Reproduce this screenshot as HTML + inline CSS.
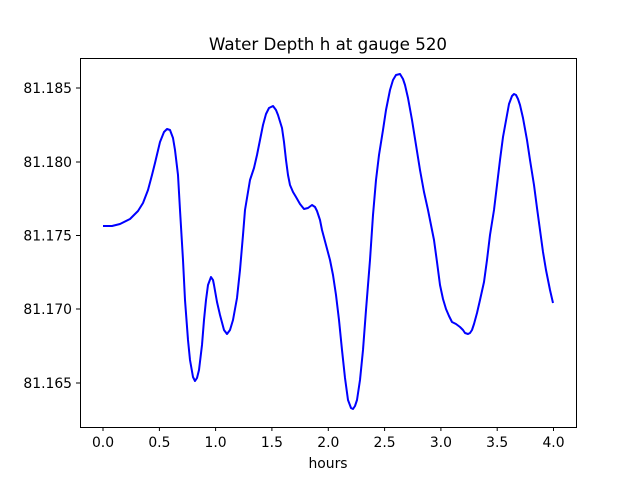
<!DOCTYPE html>
<html><head><meta charset="utf-8"><style>body{margin:0;background:#fff}svg{display:block}</style></head><body>
<svg width="640" height="480" xmlns="http://www.w3.org/2000/svg" font-family="DejaVu Sans, Liberation Sans, sans-serif">
<rect width="640" height="480" fill="#fff"/>
<text x="328" y="50" font-size="16.7" text-anchor="middle">Water Depth h at gauge 520</text>
<polyline fill="none" stroke="#0000ff" stroke-width="2" stroke-linejoin="round" points="103,226 112,226 120,224 130,219 138,211 143,203 148,190 152,175 155,163 160,142 164,132 167,129 170,130 173,138 175,150 178,175 180,210 183,260 185,300 188,340 190,360 193,377 195,381 197,378 199,370 202,345 204,320 206,300 208,285 211,277 213,280 214,285 217,302 220,315 224,330 227,334 230,330 233,320 237,298 240,270 243,235 245,210 250,180 254,168 257,155 260,140 263,125 266,114 269,108 273,106 276,110 278,115 282,128 284,142 286,160 288,175 290,185 293,192 296,197 300,204 304,209 308,208 312,205 315,207 317,211 320,220 322,230 326,245 330,260 333,275 336,295 339,320 342,350 345,378 348,400 351,408 353,409 355,406 357,400 360,380 363,350 366,310 370,260 373,215 376,180 379,155 383,130 386,110 390,90 393,80 396,75 400,74 403,79 405,85 408,98 412,120 416,145 420,170 424,192 428,210 431,225 434,240 437,262 440,285 443,299 446,309 449,316 452,322 456,324 460,327 463,330 465,333 468,334 470,333 472,330 474,324 477,313 480,300 484,282 487,260 490,235 494,210 497,185 500,160 503,137 507,115 509,104 512,96 514,94 516,95 518,99 520,105 523,118 527,140 530,160 534,185 537,208 540,230 543,252 546,270 550,290 553,303"/>
<rect x="80.5" y="58.5" width="496" height="369" fill="none" stroke="#000" stroke-width="1"/>
<g stroke="#000" stroke-width="1">
<line x1="103" y1="427" x2="103" y2="431"/><line x1="159.4" y1="427" x2="159.4" y2="431"/><line x1="215.6" y1="427" x2="215.6" y2="431"/><line x1="271.9" y1="427" x2="271.9" y2="431"/><line x1="328.3" y1="427" x2="328.3" y2="431"/><line x1="384.6" y1="427" x2="384.6" y2="431"/><line x1="440.9" y1="427" x2="440.9" y2="431"/><line x1="497.2" y1="427" x2="497.2" y2="431"/><line x1="553.5" y1="427" x2="553.5" y2="431"/>
<line x1="76" y1="88" x2="80" y2="88"/><line x1="76" y1="162" x2="80" y2="162"/><line x1="76" y1="235.5" x2="80" y2="235.5"/><line x1="76" y1="309" x2="80" y2="309"/><line x1="76" y1="383" x2="80" y2="383"/>
</g>
<g font-size="13.9" text-anchor="middle">
<text x="103" y="447">0.0</text><text x="159.4" y="447">0.5</text><text x="215.6" y="447">1.0</text><text x="271.9" y="447">1.5</text><text x="328.3" y="447">2.0</text><text x="384.6" y="447">2.5</text><text x="440.9" y="447">3.0</text><text x="497.2" y="447">3.5</text><text x="553.5" y="447">4.0</text>
</g>
<g font-size="13.9" text-anchor="end">
<text x="72" y="93">81.185</text><text x="72" y="167">81.180</text><text x="72" y="240.5">81.175</text><text x="72" y="314">81.170</text><text x="72" y="388">81.165</text>
</g>
<text x="328" y="468" font-size="13.9" text-anchor="middle">hours</text>
</svg>
</body></html>
